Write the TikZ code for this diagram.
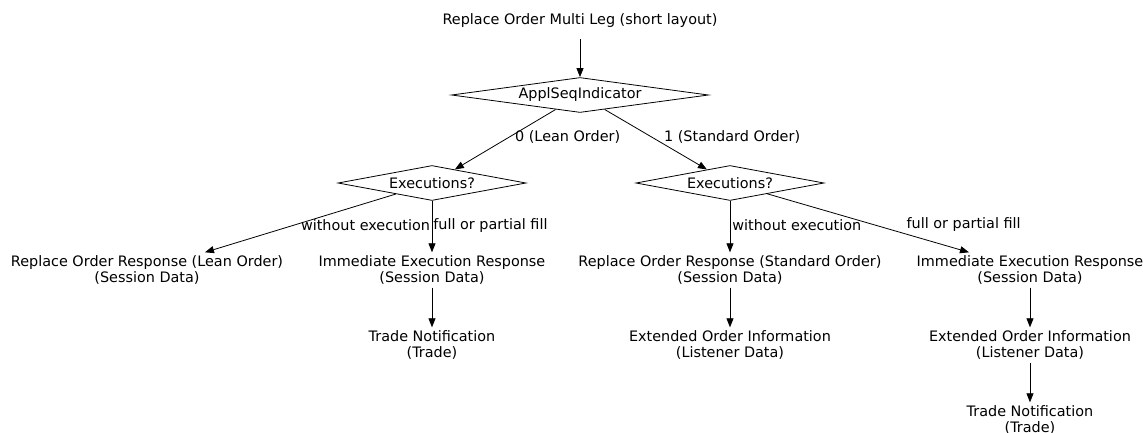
\documentclass[tikz,border=0pt]{standalone}
\usepackage{fontspec}
\setmainfont{DejaVu Sans}
\usetikzlibrary{shapes.geometric, arrows.meta}

\tikzset{
  decision/.style={draw, diamond, aspect=7, inner sep=0pt, minimum width=#1, minimum height=35pt, line width=0.8pt},
  msg/.style={align=center, inner sep=3pt, minimum height=35pt},
  flow/.style={-{Triangle[length=9pt,width=7pt]}, line width=0.8pt},
  elabel/.style={anchor=west, inner sep=1pt},
}

\begin{document}
\begin{tikzpicture}[x=1pt, y=-1pt, font=\fontsize{14.4}{15.2}\selectfont]

  % Canvas
  \useasboundingbox (0,0) rectangle (1143,432);

  % Start and first decision
  \node[msg, minimum height=36pt] (title) at (580,21) {Replace Order Multi Leg (short layout)};
  \node[decision=257pt] (appl) at (580,95) {ApplSeqIndicator};

  % Execution decisions
  \node[decision=188pt] (execlean) at (432,183) {Executions?};
  \node[decision=188pt] (execstd) at (730,183) {Executions?};

  % Session data responses
  \node[msg] (replean) at (147,270) {Replace Order Response (Lean Order)\\(Session Data)};
  \node[msg] (immlean) at (432,270) {Immediate Execution Response\\(Session Data)};
  \node[msg] (repstd) at (730,270) {Replace Order Response (Standard Order)\\(Session Data)};
  \node[msg] (immstd) at (1030,270) {Immediate Execution Response\\(Session Data)};

  % Listener data and trades
  \node[msg] (tradelean) at (432,345) {Trade Notification\\(Trade)};
  \node[msg] (extstd) at (730,345) {Extended Order Information\\(Listener Data)};
  \node[msg] (extimm) at (1030,345) {Extended Order Information\\(Listener Data)};
  \node[msg] (tradestd) at (1030,420) {Trade Notification\\(Trade)};

  % Connectors
  \draw[flow] (title) -- (appl);
  \draw[flow] (appl) -- node[elabel, pos=0.46, xshift=4.5pt] {0 (Lean Order)} (execlean);
  \draw[flow] (appl) -- node[elabel, pos=0.46, xshift=11pt] {1 (Standard Order)} (execstd);

  \draw[flow] (execlean) -- node[elabel, pos=0.53, xshift=5pt] {without execution} (replean);
  \draw[flow] (execlean) -- node[elabel, pos=0.47] {full or partial fill} (immlean);
  \draw[flow] (execstd) -- node[elabel, pos=0.47, xshift=1pt] {without execution} (repstd);
  \draw[flow] (execstd) -- node[elabel, pos=0.53, xshift=31pt] {full or partial fill} (immstd);

  \draw[flow] (immlean) -- (tradelean);
  \draw[flow] (repstd) -- (extstd);
  \draw[flow] (immstd) -- (extimm);
  \draw[flow] (extimm) -- (tradestd);

\end{tikzpicture}
\end{document}
